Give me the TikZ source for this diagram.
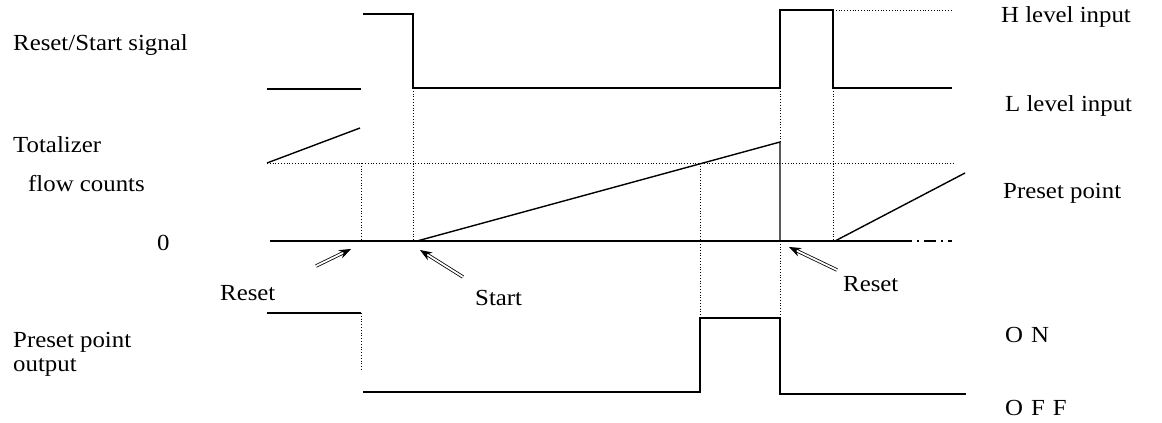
\documentclass[tikz,border=0pt]{standalone}
\usepackage{fontspec}
\setmainfont{Liberation Serif}[FakeStretch=1.08]
\usetikzlibrary{arrows.meta}
\begin{document}
\begin{tikzpicture}[x=1pt,y=-1pt,
  sig/.style={line width=1.7pt, line join=miter},
  edge/.style={line width=1.4pt},
  guide/.style={line width=0.8pt, dotted},
  lbl/.style={anchor=base west, inner sep=0pt, font=\fontsize{23}{26}\selectfont},
  ptr/.style={double, double distance=1.8pt, line width=0.8pt, -{Stealth[length=12pt,width=9pt]}}]
\useasboundingbox[fill=white] (0,0) rectangle (1162,423);

% ---- labels
\node[lbl] (lRS) at (13,50) {Reset/Start signal};
\node[lbl] (lH) at (1001,22) {H level input};
\node[lbl] (lL) at (1005,111) {L level input};
\node[lbl] (lTot) at (13,152) {Totalizer};
\node[lbl] (lFlow) at (28,191) {flow counts};
\node[lbl] (lPP) at (1003,198) {Preset point};
\node[lbl] (lZero) at (157,250) {0};
\node[lbl] (lRes1) at (220,300) {Reset};
\node[lbl] (lStart) at (475,305) {Start};
\node[lbl] (lRes2) at (843,291) {Reset};
\node[lbl] (lPPO) at (13,347) {Preset point};
\node[lbl] (lOut) at (13,371) {output};
\node[lbl] (lOn) at (1005,342) {O\hspace{8pt}N};
\node[lbl] (lOff) at (1005,415) {O\hspace{8pt}F\hspace{8pt}F};

% ---- guide lines
\draw[guide] (267,163) -- (955,163);
\draw[guide] (833,10) -- (952,10);
\draw[guide] (361,163) -- (361,241);
\draw[guide] (361,313) -- (361,370);
\draw[guide] (413,88) -- (413,241);
\draw[guide] (700,163) -- (700,318);
\draw[guide] (780,88) -- (780,142);
\draw[guide] (780,241) -- (780,318);
\draw[guide] (833,88) -- (833,241);

% ---- Reset/Start signal
\draw[sig] (267,89) -- (361,89);
\draw[sig] (363,14) -- (413,14) -- (413,88) -- (780,88) -- (780,10) -- (833,10) -- (833,88) -- (952,88);

% ---- Totalizer flow counts
\draw[edge] (270,241) -- (900,241);
\draw[edge, dash pattern=on 12pt off 5pt on 2pt off 5pt] (900,241) -- (952,241);
\draw[edge] (267,163) -- (360,128);
\draw[edge] (417,241) -- (780,142) -- (780,241);
\draw[edge] (835,241) -- (965,173);

% ---- Preset point output
\draw[sig] (267,313) -- (361,313);
\draw[sig] (363,392) -- (700,392) -- (700,318) -- (780,318) -- (780,394) -- (966,394);

% ---- pointers
\coordinate (a1t) at (316,266);
\coordinate (a1h) at (351,249);
\coordinate (a2t) at (463,277);
\coordinate (a2h) at (420,250);
\coordinate (a3t) at (837,270);
\coordinate (a3h) at (789,247);
\draw[ptr] (a1t) -- (a1h);
\draw[ptr] (a2t) -- (a2h);
\draw[ptr] (a3t) -- (a3h);
\end{tikzpicture}
\end{document}
